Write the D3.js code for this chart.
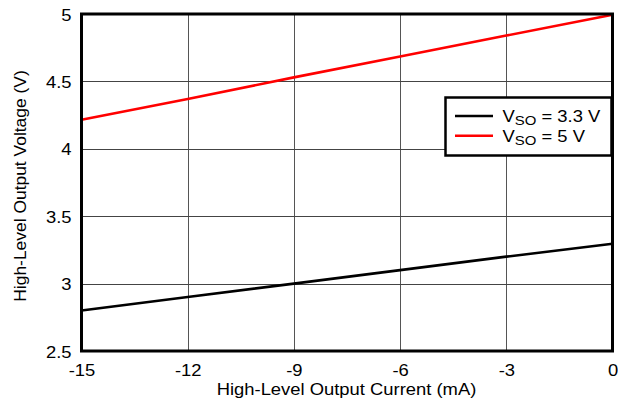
<!DOCTYPE html>
<html><head><meta charset="utf-8">
<script src="https://cdn.jsdelivr.net/npm/d3@7"></script>
<style>body{margin:0;background:#fff}svg{display:block;font-family:"Liberation Sans",Arial,sans-serif}</style>
</head><body><svg id="c" width="618" height="406"></svg>
<script>
const currents = [-15, -12, -9, -6, -3, 0];
const vso33 = [2.80, 2.90, 3.00, 3.10, 3.20, 3.295];
const vso5 = [4.215, 4.37, 4.53, 4.685, 4.84, 4.995];
const xTicks = [-15, -12, -9, -6, -3, 0];
const yTicks = [2.5, 3, 3.5, 4, 4.5, 5];
const seriesNames = ["3.3 V", "5 V"];
const seriesColors = ["#000000", "#ff0000"];

const svg = d3.select("#c");
const L = 81.5, R = 612.5, T = 14, B = 351;
const SX = 1.15, FS = 16;
const x = d3.scaleLinear().domain([-15, 0]).range([L, R]);
const y = d3.scaleLinear().domain([2.5, 5]).range([B, T]);

// grid
const g = svg.append("g");
g.selectAll(".vg").data(xTicks.slice(1, -1)).join("line")
  .attr("x1", d => Math.round(x(d)) + 0.5).attr("x2", d => Math.round(x(d)) + 0.5)
  .attr("y1", T).attr("y2", B).attr("stroke", "#555").attr("stroke-width", 1);
g.selectAll(".hg").data(yTicks.slice(1, -1)).join("line")
  .attr("y1", d => Math.round(y(d)) + 0.5).attr("y2", d => Math.round(y(d)) + 0.5)
  .attr("x1", L).attr("x2", R).attr("stroke", "#444").attr("stroke-width", 1);

// axes
const xa = svg.append("g").attr("transform", `translate(0,${B})`)
  .call(d3.axisBottom(x).tickValues(xTicks).tickSize(0).tickFormat(d => String(d)));
xa.select(".domain").remove();
xa.selectAll(".tick text").attr("font-size", FS).attr("font-family", "Liberation Sans, Arial")
  .attr("fill", "#000").attr("dy", null).attr("y", 0)
  .attr("transform", `translate(0,24.5) scale(${SX},1)`);
const ya = svg.append("g").attr("transform", `translate(${L},0)`)
  .call(d3.axisLeft(y).tickValues(yTicks).tickSize(0).tickFormat(d => String(d)));
ya.select(".domain").remove();
ya.selectAll(".tick text").attr("font-size", FS).attr("font-family", "Liberation Sans, Arial")
  .attr("fill", "#000").attr("dy", null).attr("x", 0)
  .attr("transform", `translate(-10,6) scale(${SX},1)`);

// lines
const line = d3.line().x((d, i) => x(currents[i])).y(d => y(d));
svg.append("path").datum(vso33).attr("d", line).attr("fill", "none")
  .attr("stroke", seriesColors[0]).attr("stroke-width", 2.6);
svg.append("path").datum(vso5).attr("d", line).attr("fill", "none")
  .attr("stroke", seriesColors[1]).attr("stroke-width", 2.6);

// frame
svg.append("rect").attr("x", L).attr("y", T).attr("width", R - L).attr("height", B - T)
  .attr("fill", "none").attr("stroke", "#000").attr("stroke-width", 3);

// titles
svg.append("text").attr("transform", `translate(346.5,394.5) scale(${SX},1)`).attr("text-anchor", "middle")
  .attr("font-size", FS).text("High-Level Output Current (mA)");
svg.append("text").attr("transform", "translate(26,186) rotate(-90) scale(1.09,1)").attr("text-anchor", "middle")
  .attr("font-size", FS).text("High-Level Output Voltage (V)");

// legend
const lg = svg.append("g");
lg.append("rect").attr("x", 445.5).attr("y", 97.5).attr("width", 166).attr("height", 58)
  .attr("fill", "#fff").attr("stroke", "#000").attr("stroke-width", 2.5);
seriesNames.forEach((n, i) => {
  const yy = 116 + i * 19.7;
  lg.append("line").attr("x1", 455).attr("x2", 493).attr("y1", yy).attr("y2", yy)
    .attr("stroke", seriesColors[i]).attr("stroke-width", 2.6);
  const t = lg.append("text").attr("transform", `translate(502.5,${121.7 + i * 20}) scale(${SX},1)`)
    .attr("font-size", FS);
  t.append("tspan").text("V");
  t.append("tspan").attr("font-size", 13).attr("dy", 3).text("SO");
  t.append("tspan").attr("dy", -3).text(" = " + n);
});
</script></body></html>
